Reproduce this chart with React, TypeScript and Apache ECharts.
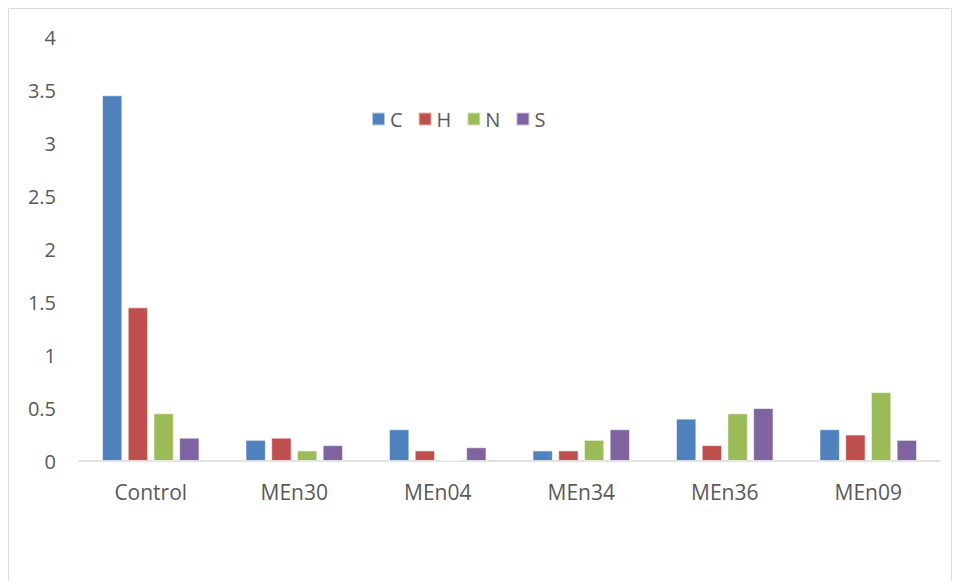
import React, { useEffect, useRef } from "react";
import * as echarts from "echarts";

const categories = ["Control", "MEn30", "MEn04", "MEn34", "MEn36", "MEn09"];
const seriesNames = ["C", "H", "N", "S"];
const cValues = [3.45, 0.2, 0.3, 0.1, 0.4, 0.3];
const hValues = [1.45, 0.22, 0.1, 0.1, 0.15, 0.25];
const nValues = [0.45, 0.1, 0.01, 0.2, 0.45, 0.65];
const sValues = [0.22, 0.15, 0.13, 0.3, 0.5, 0.2];
const colors = ["#4F81BD", "#C0504D", "#9BBB59", "#8064A2"];

export default function App() {
  const ref = useRef<HTMLDivElement>(null);
  useEffect(() => {
    if (!ref.current) return;
    const chart = echarts.init(ref.current, undefined, { renderer: "svg" });
    const font = "'Open Sans', sans-serif";
    const data = [cValues, hValues, nValues, sValues];
    chart.setOption({
      animation: false,
      backgroundColor: "#ffffff",
      textStyle: { fontFamily: font },
      graphic: [
        {
          type: "rect",
          shape: { x: 0.5, y: 0.5, width: 943, height: 620 },
          style: { fill: "none", stroke: "#d9d9d9", lineWidth: 1 },
          silent: true,
        },
      ],
      legend: {
        data: seriesNames,
        left: 358,
        top: 96,
        itemWidth: 13,
        itemHeight: 13,
        itemGap: 15,
        icon: "rect",
        textStyle: { color: "#595959", fontSize: 20, fontFamily: font },
      },
      grid: { left: 71, right: 12, top: 29, bottom: 120 },
      xAxis: {
        type: "category",
        data: categories,
        axisLine: { lineStyle: { color: "#d9d9d9", width: 1.5 } },
        axisTick: { show: false },
        axisLabel: { color: "#595959", fontSize: 21, fontFamily: font, margin: 20 },
      },
      yAxis: {
        type: "value",
        min: 0,
        max: 4,
        interval: 0.5,
        axisLine: { show: false },
        axisTick: { show: false },
        splitLine: { show: false },
        axisLabel: { color: "#595959", fontSize: 20, fontFamily: font, margin: 23 },
      },
      series: seriesNames.map((name, i) => ({
        name,
        type: "bar",
        data: data[i],
        barGap: "26%",
        barCategoryGap: "32%",
        itemStyle: { color: colors[i], borderColor: "rgba(255,255,255,0.6)", borderWidth: 1 },
      })),
    });
    return () => chart.dispose();
  }, []);
  return (
    <div
      ref={ref}
      style={{ position: "fixed", left: 8, top: 8, width: 944, height: 573 }}
    />
  );
}
